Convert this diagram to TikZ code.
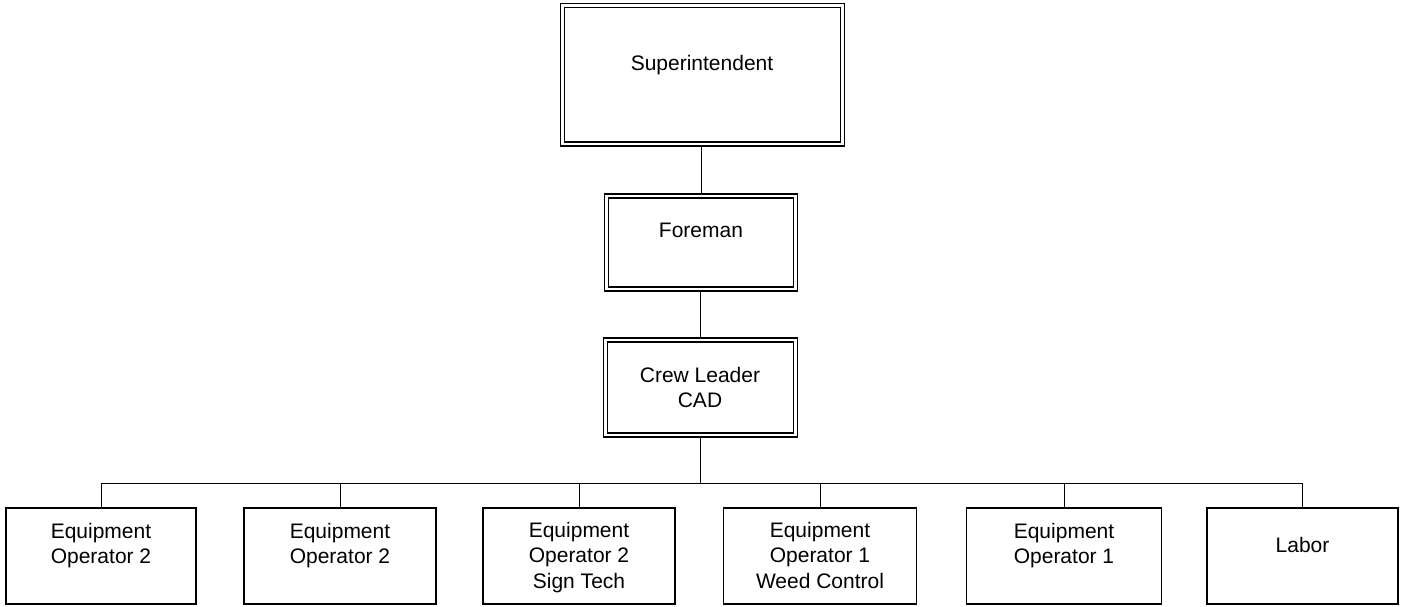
\documentclass[tikz,border=0pt]{standalone}
\usepackage{fontspec}
\setmainfont{Liberation Sans}
\begin{document}
\begin{tikzpicture}[x=1pt,y=-1pt,
  dblbox/.style={draw, line width=1.5pt, double, double distance=2.8pt,
    outer sep=2.9pt, inner sep=0pt, fill=white},
  onebox/.style={draw, line width=1.4pt, outer sep=0.7pt, inner sep=0pt},
  txt/.style={anchor=north, inner sep=0pt, align=center,
    font=\fontsize{21}{25.5}\selectfont},
  wire/.style={line width=1pt}]
\useasboundingbox (0,0) rectangle (1401,607);

% upper chain of double-framed boxes
\node[dblbox, minimum width=280pt, minimum height=138.5pt] (sup) at (702.5,74.75) {};
\node[dblbox, minimum width=189pt, minimum height=93pt] (fore) at (701,242.5) {};
\node[dblbox, minimum width=190pt, minimum height=95pt] (crew) at (700.5,387.5) {};

\node[txt] (tsup) at (702,55) {Superintendent};
\node[txt] (tfore) at (701,223) {Foreman};
\node[txt] (tcrew) at (700,367) {Crew Leader\\CAD};

% lower row of single-framed boxes
\node[onebox, minimum width=190pt, minimum height=96pt] (b1) at (101,556) {};
\node[onebox, minimum width=192pt, minimum height=96pt] (b2) at (340,556) {};
\node[onebox, minimum width=192pt, minimum height=96pt] (b3) at (579,556) {};
\node[onebox, minimum width=193pt, minimum height=96pt] (b4) at (820,556) {};
\node[onebox, minimum width=195pt, minimum height=96pt] (b5) at (1064,556) {};
\node[onebox, minimum width=191pt, minimum height=96pt] (b6) at (1302.5,556) {};

\node[txt] (t1) at (101,523) {Equipment\\Operator 2};
\node[txt] (t2) at (340,523) {Equipment\\Operator 2};
\node[txt] (t3) at (579,522) {Equipment\\Operator 2\\Sign Tech};
\node[txt] (t4) at (820,522) {Equipment\\Operator 1\\Weed Control};
\node[txt] (t5) at (1064,523) {Equipment\\Operator 1};
\node[txt] (t6) at (1302.5,537) {Labor};

% connectors
\coordinate (bus) at (701,483);
\draw[wire] (fore.north) -- (fore.north |- sup.south);
\draw[wire] (crew.north) -- (crew.north |- fore.south);
\draw[wire] (crew.south) -- (crew.south |- bus);
\draw[wire] (b1.north |- bus) -- (b6.north |- bus);
\foreach \b in {b1,b2,b3,b4,b5,b6}
  \draw[wire] (\b.north) -- (\b.north |- bus);
\end{tikzpicture}
\end{document}
